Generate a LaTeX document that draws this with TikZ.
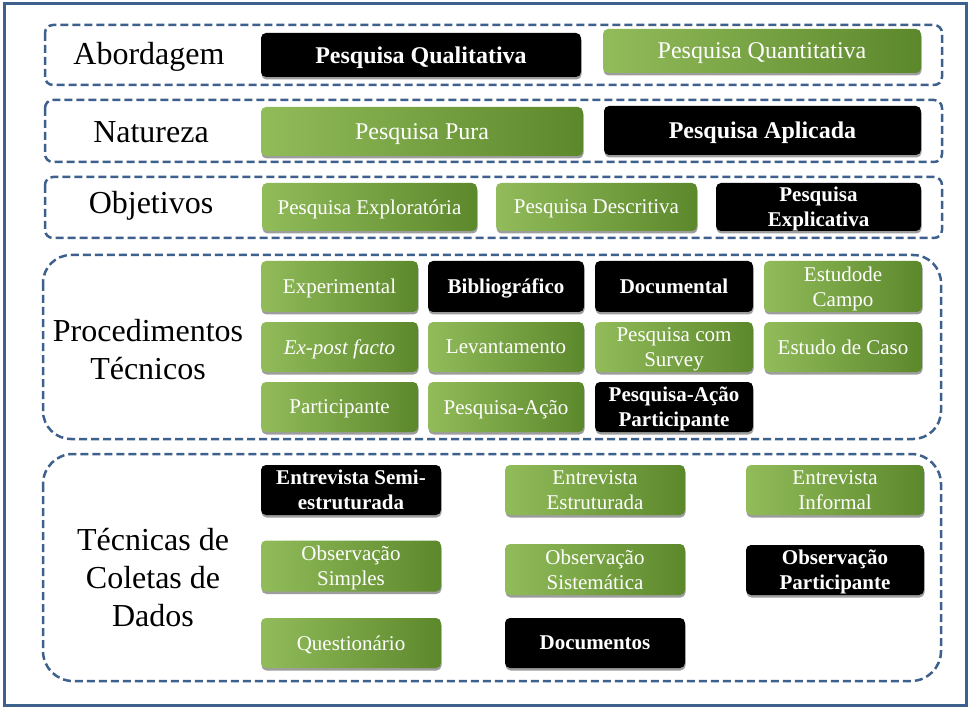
\documentclass[tikz,border=0pt]{standalone}
\usepackage{fontspec}
\setmainfont{Liberation Serif}
\usepackage{tikz}
\usetikzlibrary{shadows}

\definecolor{azulborda}{RGB}{62,96,140}
\definecolor{verdeclaro}{RGB}{146,188,90}
\definecolor{verdeescuro}{RGB}{92,136,44}

\tikzset{
	caixa/.style={rounded corners=5pt, inner sep=2pt, align=center, text=white, text depth=0pt,
		drop shadow={shadow xshift=0.5pt, shadow yshift=-2.5pt, opacity=0.55, fill=black!70}},
	verde/.style={caixa, left color=verdeclaro, right color=verdeescuro},
	preto/.style={caixa, fill=black, execute at begin node=\bfseries},
	tracejado/.style={draw=azulborda, line width=2.5pt, dash pattern=on 8pt off 4pt},
	rotulo/.style={align=center, font=\fontsize{32}{38}\selectfont},
	grande/.style={font=\fontsize{24}{28}\selectfont},
	pequeno/.style={font=\fontsize{21}{25}\selectfont}
}

\begin{document}
\begin{tikzpicture}[x=1pt, y=-1pt]
	\useasboundingbox (0,0) rectangle (969,711);
	% borda
	\draw [azulborda, line width=3pt] (4,4) rectangle (966,705);

	% Abordagem
	\draw [tracejado, rounded corners=8pt] (45,25) rectangle (942,85);
	\node [rotulo] (abordagem) at (149,57) {Abordagem};
	\node [preto, grande, minimum width=320pt, minimum height=44pt] (qualitativa) at (421,55) {Pesquisa Qualitativa};
	\node [verde, grande, minimum width=318pt, minimum height=44pt] (quantitativa) at (762,51) {Pesquisa Quantitativa};

	% Natureza
	\draw [tracejado, rounded corners=8pt] (45,100) rectangle (942,162);
	\node [rotulo] (natureza) at (151,132) {Natureza};
	\node [verde, grande, minimum width=322pt, minimum height=49pt] (pura) at (422,131.5) {Pesquisa Pura};
	\node [preto, grande, minimum width=317pt, minimum height=49pt] (aplicada) at (762.5,130.5) {Pesquisa Aplicada};

	% Objetivos
	\draw [tracejado, rounded corners=8pt] (45,177) rectangle (942,238);
	\node [rotulo] (objetivos) at (151,206) {Objetivos};
	\node [verde, pequeno, minimum width=215pt, minimum height=48pt] (exploratoria) at (369.5,207) {Pesquisa Exploratória};
	\node [verde, pequeno, minimum width=201pt, minimum height=48pt] (descritiva) at (596.5,207) {Pesquisa Descritiva};
	\node [preto, pequeno, minimum width=205pt, minimum height=48pt] (explicativa) at (818.5,207) {Pesquisa\\Explicativa};

	% Procedimentos
	\draw [tracejado, rounded corners=28pt] (43,255) rectangle (941,439);
	\node [rotulo] (procedimentos) at (148,350) {Procedimentos\\Técnicos};
	% linha 1
	\node [verde, pequeno, minimum width=157pt, minimum height=51pt] (experimental) at (339.5,286.5) {Experimental};
	\node [preto, pequeno, minimum width=156pt, minimum height=51pt] (bibliografico) at (506,286.5) {Bibliográfico};
	\node [preto, pequeno, minimum width=158pt, minimum height=51pt] (documental) at (674,286.5) {Documental};
	\node [verde, pequeno, minimum width=158pt, minimum height=51pt] (campo) at (843,286.5) {Estudode\\Campo};
	% linha 2
	\node [verde, pequeno, minimum width=157pt, minimum height=50pt] (expost) at (339.5,347) {\textit{Ex-post facto}};
	\node [verde, pequeno, minimum width=156pt, minimum height=50pt] (levantamento) at (506,347) {Levantamento};
	\node [verde, pequeno, minimum width=158pt, minimum height=50pt] (survey) at (674,347) {Pesquisa com\\Survey};
	\node [verde, pequeno, minimum width=158pt, minimum height=50pt] (caso) at (843,347) {Estudo de Caso};
	% linha 3
	\node [verde, pequeno, minimum width=157pt, minimum height=50pt] (participante) at (339.5,407) {Participante};
	\node [verde, pequeno, minimum width=156pt, minimum height=50pt] (acao) at (506,407) {Pesquisa-Ação};
	\node [preto, pequeno, minimum width=158pt, minimum height=50pt] (acaopart) at (674,407) {Pesquisa-Ação\\Participante};

	% Coletas
	\draw [tracejado, rounded corners=30pt] (43,454) rectangle (941,681);
	\node [rotulo] (coletas) at (153,578) {Técnicas de\\Coletas de\\Dados};
	% linha 1
	\node [preto, pequeno, minimum width=180pt, minimum height=50pt] (semi) at (351,490) {Entrevista Semi-\\estruturada};
	\node [verde, pequeno, minimum width=180pt, minimum height=50pt] (estruturada) at (595,490) {Entrevista\\Estruturada};
	\node [verde, pequeno, minimum width=178pt, minimum height=50pt] (informal) at (835,490) {Entrevista\\Informal};
	% linha 2
	\node [verde, pequeno, minimum width=180pt, minimum height=51pt] (simples) at (351,566) {Observação\\Simples};
	\node [verde, pequeno, minimum width=180pt, minimum height=51pt] (sistematica) at (595,569.5) {Observação\\Sistemática};
	\node [preto, pequeno, minimum width=178pt, minimum height=50pt] (obspart) at (835,570) {Observação\\Participante};
	% linha 3
	\node [verde, pequeno, minimum width=180pt, minimum height=50pt] (questionario) at (351,643) {Questionário};
	\node [preto, pequeno, minimum width=180pt, minimum height=50pt] (documentos) at (595,643) {Documentos};
\end{tikzpicture}
\end{document}
